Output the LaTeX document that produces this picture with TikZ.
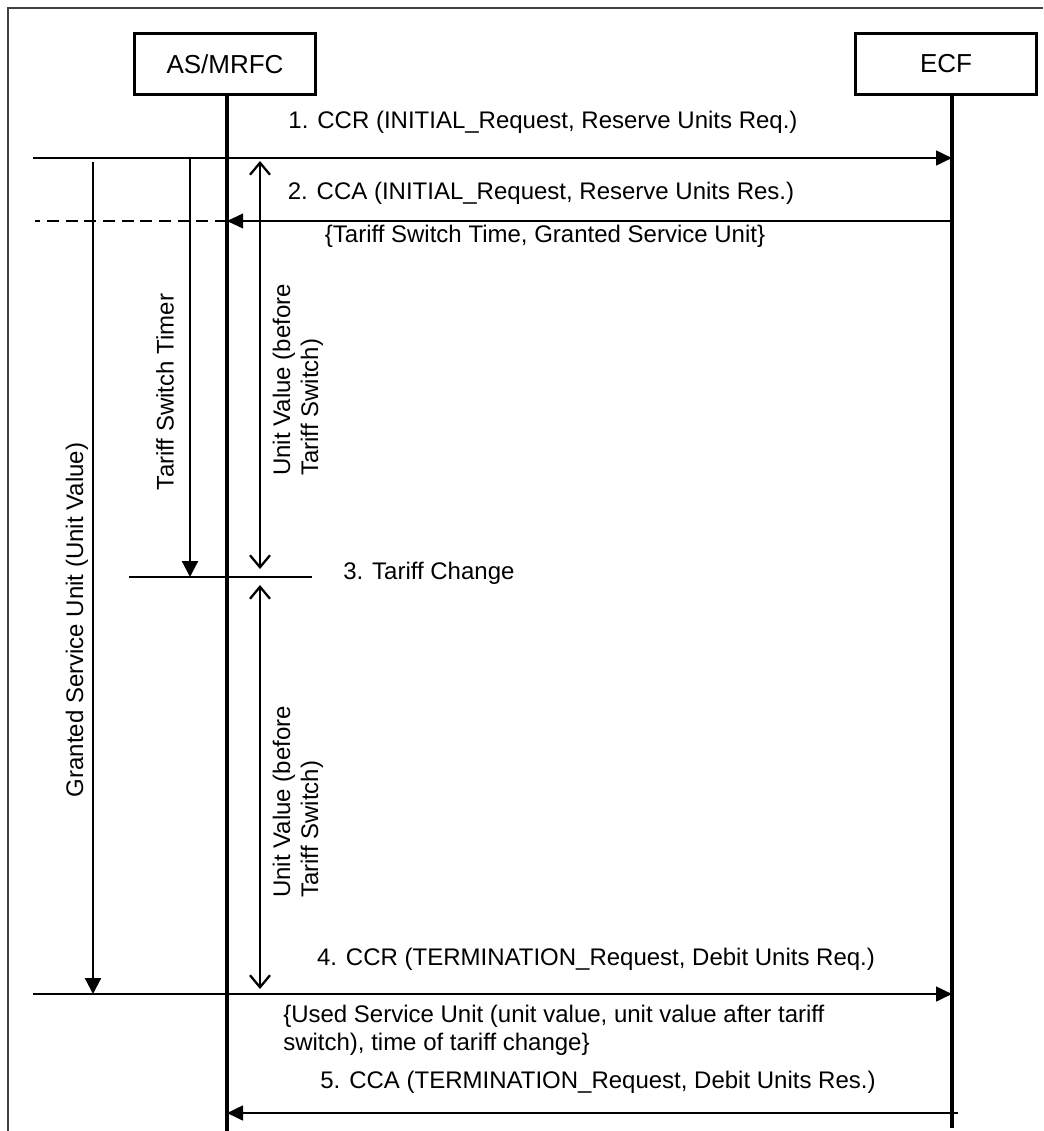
\documentclass[tikz,border=0pt]{standalone}
\usepackage{fontspec}
\setmainfont{Liberation Sans}
\usetikzlibrary{arrows.meta}
\begin{document}
\begin{tikzpicture}[x=0.75pt, y=-0.75pt, every node/.style={font=\fontsize{18}{21}\selectfont, inner sep=0pt},
  entity/.style={draw, line width=2.4pt, minimum width=136pt, minimum height=46pt, font=\fontsize{19.5}{22}\selectfont},
  life/.style={line width=2.4pt},
  msg/.style={line width=2pt, -{Triangle[length=12pt,width=11pt]}},
  thinmsg/.style={line width=1.2pt, -{Triangle[length=12pt,width=11pt]}},
  timer/.style={line width=1.7pt, -{Triangle[length=12pt,width=12pt]}},
  span/.style={line width=1.7pt, {Straight Barb[length=9pt,width=15pt,line width=1.7pt]}-{Straight Barb[length=9pt,width=15pt,line width=1.7pt]}}]
\useasboundingbox (0,0) rectangle (1043,1131);
\draw[line width=0.8pt, black!75] (8,1131) -- (8,8) -- (1043,8);%frame
\begin{scope}
\node[entity] (asmrfc) at (225,64) {AS/MRFC};%1
\node[entity] (ecf) at (946,64) {ECF};%2
\coordinate (a0) at (227,96);
\coordinate (a1) at (227,1131);
\coordinate (e0) at (952,96);
\coordinate (e1) at (952,1128);
\end{scope}
\begin{scope}
\coordinate (m1l) at (33,158);
\coordinate (m1a) at (227,158);
\coordinate (m1e) at (952,158);
\coordinate (m2l) at (35,221);
\coordinate (m2a) at (227,221);
\coordinate (m2e) at (952,221);
\coordinate (m4l) at (33,994);
\coordinate (m4a) at (227,994);
\coordinate (m4e) at (952,994);
\coordinate (m5a) at (227,1113);
\coordinate (m5e) at (958,1113);
\coordinate (g0) at (93,162);
\coordinate (g1) at (93,994);
\coordinate (t0) at (190,158);
\coordinate (t1) at (190,577);
\coordinate (c0) at (129,577);
\coordinate (c1) at (312,577);
\coordinate (u0) at (260,161);
\coordinate (u1) at (260,569);
\coordinate (u2) at (260,585);
\coordinate (u3) at (260,989);
\end{scope}
\begin{scope}
\draw[life] (a0) -- (a1);
\draw[life] (e0) -- (e1);
\draw[line width=1.2pt] (m1l) -- (m1a);
\draw[msg] (m1a) -- (m1e);
\draw[thinmsg] (m2e) -- (m2a);
\draw[line width=1.2pt, dash pattern=on 9pt off 5pt] (m2a) -- (m2l);
\draw[line width=1.2pt] (m4l) -- (m4a);
\draw[msg] (m4a) -- (m4e);
\draw[msg] (m5e) -- (m5a);
\draw[timer] (g0) -- (g1);
\draw[timer] (t0) -- (t1);
\draw[line width=1.2pt] (c0) -- (c1);
\draw[span] (u0) -- (u1);
\draw[span] (u2) -- (u3);
\end{scope}
\begin{scope}
\node (l1) at (543,122) {1. CCR (INITIAL\_Request, Reserve Units Req.)};
\node (l2) at (541,193) {2. CCA (INITIAL\_Request, Reserve Units Res.)};
\node (l2b) at (545,236) {\{Tariff Switch Time, Granted Service Unit\}};
\node[anchor=west] (l3) at (343,573) {3. Tariff Change};
\node (l4) at (596,959) {4. CCR (TERMINATION\_Request, Debit Units Req.)};
\node[anchor=west, align=left] (l4b) at (283,1030) {\{Used Service Unit (unit value, unit value after tariff\\switch), time of tariff change\}};
\node (l5) at (598,1082) {5. CCA (TERMINATION\_Request, Debit Units Res.)};
\node[rotate=90] (gsu) at (77,620) {Granted Service Unit (Unit Value)};
\node[rotate=90] (tst) at (165,392) {Tariff Switch Timer};
\node[rotate=90, align=left] (uv1) at (298,380) {Unit Value (before\\Tariff Switch)};
\node[rotate=90, align=left] (uv2) at (298,802) {Unit Value (before\\Tariff Switch)};
\end{scope}
\end{tikzpicture}
\end{document}
